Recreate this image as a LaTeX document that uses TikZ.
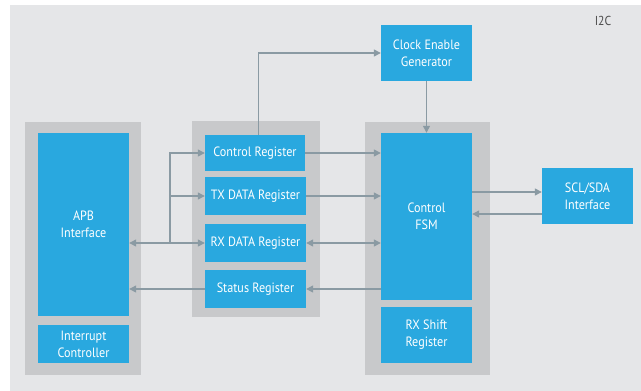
\documentclass[tikz,border=0pt]{standalone}
\usepackage{fontspec}
\setmainfont{PT Sans}[FakeStretch=0.9]
\usepackage{tikz}
\usetikzlibrary{arrows.meta}

\definecolor{bgray}{HTML}{E5E6E8}
\definecolor{pgray}{HTML}{C8C9CB}
\definecolor{iblue}{HTML}{29A8DF}
\definecolor{agray}{HTML}{8A9AA3}

\begin{document}
\begin{tikzpicture}[x=1pt, y=-1pt]

% Set the overall frame of the picture
\useasboundingbox (0,0) rectangle (641,391);
\fill[bgray] (10,5) rectangle (641,391);

% Define styles for panels, blocks and links
\tikzstyle{panel} = [fill=pgray, inner sep=0pt]
\tikzstyle{block} = [fill=iblue, text=white, align=center, inner sep=0pt,
                     font=\fontsize{13.5}{17}\selectfont]
\tikzstyle{link}  = [draw=agray, line width=1.3pt,
                     -{Triangle[length=7pt,width=7pt]}]
\tikzstyle{both}  = [draw=agray, line width=1.3pt,
                     {Triangle[length=7pt,width=7pt]}-{Triangle[length=7pt,width=7pt]}]

%Gray panels behind the blocks
\node[panel, minimum width=116pt, minimum height=253pt] (pleft) at (83,248.5) {};
\node[panel, minimum width=128pt, minimum height=196pt] (pmid) at (256,219) {};
\node[panel, minimum width=125pt, minimum height=253pt] (pright) at (427.5,248.5) {};

%Blue blocks
\node[block, minimum width=91pt, minimum height=183pt] (apb) at (83.5,224.5) {APB\\Interface};
\node[block, minimum width=91pt, minimum height=38pt] (irq) at (83.5,344) {Interrupt\\Controller};

\node[block, minimum width=100pt, minimum height=36pt] (ctrl) at (255,153) {Control Register};
\node[block, minimum width=101pt, minimum height=38pt] (tx) at (255.5,196) {TX DATA Register};
\node[block, minimum width=101pt, minimum height=38pt] (rx) at (255.5,243) {RX DATA Register};
\node[block, minimum width=101pt, minimum height=38pt] (stat) at (255.5,289) {Status Register};

\node[block, minimum width=91pt, minimum height=167pt] (fsm) at (426.5,216.5) {Control\\FSM};
\node[block, minimum width=91pt, minimum height=56pt] (shift) at (426.5,335) {RX Shift\\Register};
\node[block, minimum width=91pt, minimum height=56pt] (clk) at (426.5,53) {Clock Enable\\Generator};
\node[block, minimum width=91pt, minimum height=56pt] (scl) at (587.5,196) {SCL/SDA\\Interface};

\node[text=black!70, font=\fontsize{13}{15}\selectfont] (title) at (603,21) {I2C};

%Links
\coordinate (br) at (170,243);
\draw[link] ([xshift=3.5pt]ctrl.north) |- (clk.west);
\draw[link] (clk.south) -- (fsm.north);
\draw[link] (ctrl.east) -- (ctrl.east -| fsm.west);
\draw[link] (tx.east) -- (tx.east -| fsm.west);
\draw[both] (rx.east) -- (rx.east -| fsm.west);
\draw[link] (fsm.west |- stat.east) -- (stat.east);
\draw[link] (stat.west) -- (stat.west -| apb.east);
\draw[both] (apb.east |- rx.west) -- (rx.west);
\draw[link] (br) |- (tx.west);
\draw[link] (br) |- (ctrl.west);
\draw[link] ([yshift=4pt]scl.west -| fsm.east) -- ([yshift=4pt]scl.west);
\draw[link] ([yshift=-18pt]scl.west) -- ([yshift=-18pt]scl.west -| fsm.east);

\end{tikzpicture}
\end{document}
